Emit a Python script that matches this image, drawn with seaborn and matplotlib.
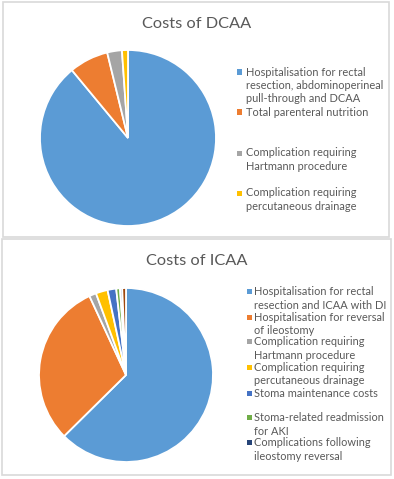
import matplotlib
matplotlib.use("Agg")
import matplotlib.pyplot as plt
import seaborn as sns
from matplotlib.patches import Rectangle

sns.set_theme(style="white")
plt.rcParams['font.family'] = ['Lato', 'DejaVu Sans']

# ---- data ----
dcaa_labels = [
    "Hospitalisation for rectal\nresection, abdominoperineal\npull-through and DCAA",
    "Total parenteral nutrition",
    "Complication requiring\nHartmann procedure",
    "Complication requiring\npercutaneous drainage",
]
dcaa_values = [89.0, 7.2, 2.7, 1.1]

icaa_labels = [
    "Hospitalisation for rectal\nresection and ICAA with DI",
    "Hospitalisation for reversal\nof ileostomy",
    "Complication requiring\nHartmann procedure",
    "Complication requiring\npercutaneous drainage",
    "Stoma maintenance costs",
    "Stoma-related readmission\nfor AKI",
    "Complications following\nileostomy reversal",
    "",
]
icaa_values = [62.6, 30.5, 1.3, 2.2, 1.6, 0.7, 0.4, 0.7]

colors = ["#5B9BD5", "#ED7D31", "#A5A5A5", "#FFC000",
          "#4472C4", "#70AD47", "#264478", "#9E480E"]

W, H = 394, 479
fig = plt.figure(figsize=(W / 100, H / 100), dpi=100)
fig.patch.set_facecolor("white")

def fx(x):
    return x / W

def fy(y):
    return 1 - y / H

TEXT = "#595959"
BORDER = "#D9D9D9"

# panel frames
for (x0, y0, x1, y1) in [(3, 2, 389, 237), (2, 239, 391, 475)]:
    fig.patches.append(Rectangle((fx(x0), fy(y1)), fx(x1) - fx(x0), fy(y0) - fy(y1),
                                 transform=fig.transFigure, fill=False,
                                 edgecolor=BORDER, linewidth=1.2))

def draw_pie(cx, cy, r, values, cols):
    ax = fig.add_axes([fx(cx - r), fy(cy + r), fx(2 * r), (2 * r) / H])
    ax.pie(values, colors=cols, startangle=90, counterclock=False,
           wedgeprops=dict(edgecolor="white", linewidth=1.3))
    ax.set_xlim(-1, 1)
    ax.set_ylim(-1, 1)
    ax.set_aspect("equal")
    ax.axis("off")
    return ax

draw_pie(128, 138, 88, dcaa_values, colors[:len(dcaa_values)])
draw_pie(126, 375, 87, icaa_values, colors[:len(icaa_values)])

fig.text(fx(197), fy(24), "Costs of DCAA", ha="center", va="center",
         fontsize=11.8, color=TEXT)
fig.text(fx(197), fy(261), "Costs of ICAA", ha="center", va="center",
         fontsize=11.8, color=TEXT)

def draw_legend(labels, cols, mx, tx, ys, fs=7.9, step=13.4):
    for lab, c, y in zip(labels, cols, ys):
        if not lab:
            continue
        s = 5
        fig.patches.append(Rectangle((fx(mx), fy(y + s / 2)), fx(s), s / H,
                                     transform=fig.transFigure, facecolor=c,
                                     edgecolor="none"))
        for i, line in enumerate(lab.split("\n")):
            fig.text(fx(tx), fy(y + i * step), line, ha="left", va="center",
                     fontsize=fs, color=TEXT)

draw_legend(dcaa_labels, colors, 237, 246, [72, 112, 153, 193])
draw_legend(icaa_labels, colors, 247, 254, [291.7, 317.3, 341.7, 367.3, 393.3, 417.7, 442.7, 0])

fig.savefig("out.png", dpi=100)
